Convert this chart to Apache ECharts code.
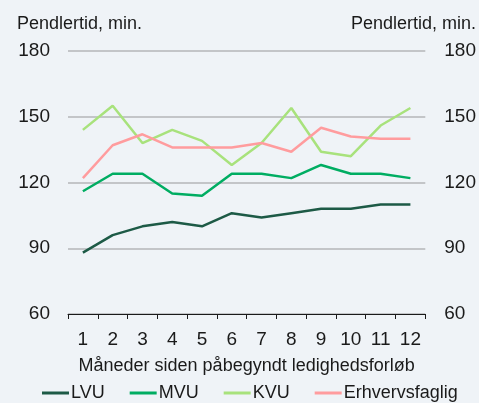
<!DOCTYPE html>
<html>
<head>
<meta charset="utf-8">
<script src="https://cdn.jsdelivr.net/npm/echarts@6/dist/echarts.min.js"></script>
<style>
  html, body { margin: 0; padding: 0; background: #eff3f7; }
  #chart { width: 479px; height: 403px; }
</style>
</head>
<body>
<div id="chart"></div>
<script>
var months = ['1', '2', '3', '4', '5', '6', '7', '8', '9', '10', '11', '12'];
var lvu = [88, 96, 100, 102, 100, 106, 104, 106, 108, 108, 110, 110];
var mvu = [116, 124, 124, 115, 114, 124, 124, 122, 128, 124, 124, 122];
var kvu = [144, 155, 138, 144, 139, 128, 138, 154, 134, 132, 146, 154];
var erhverv = [122, 137, 142, 136, 136, 136, 138, 134, 145, 141, 140, 140];

var font = 'Liberation Sans, Arial, sans-serif';

var mkLine = function (name, data, color, axis) {
    return {
        name: name,
        type: 'line',
        data: data,
        yAxisIndex: axis || 0,
        symbol: 'none',
        lineStyle: { width: 2.5, color: color },
        itemStyle: { color: color }
    };
};

var yAxisBase = function (pos) {
    return {
        type: 'value',
        position: pos,
        min: 60,
        max: 180,
        interval: 30,
        axisLine: { show: false },
        axisTick: { show: false },
        axisLabel: { color: '#1a1a1a', fontSize: 19, fontFamily: font, margin: pos === 'left' ? 18 : 19 },
        splitLine: { show: pos === 'left', lineStyle: { color: '#b4b6b8', width: 1.5 } }
    };
};

var chart = echarts.init(document.getElementById('chart'));
chart.setOption({
    backgroundColor: '#eff3f7',
    animation: false,
    grid: { left: 68, right: 53, top: 51, bottom: 89 },
    graphic: [
        { type: 'text', left: 17, top: 15, style: { text: 'Pendlertid, min.', fontSize: 18, fontFamily: font, fill: '#1a1a1a' } },
        { type: 'text', right: 3, top: 15, style: { text: 'Pendlertid, min.', fontSize: 18, fontFamily: font, fill: '#1a1a1a' } }
    ],
    legend: {
        left: 37,
        top: 379,
        itemGap: 25,
        itemWidth: 27,
        itemHeight: 3,
        icon: 'rect',
        textStyle: { fontSize: 18, fontFamily: font, color: '#1a1a1a', padding: [0, 0, 0, -3] },
        data: ['LVU', 'MVU', 'KVU', 'Erhvervsfaglig']
    },
    xAxis: {
        type: 'category',
        data: months,
        boundaryGap: true,
        name: 'Måneder siden påbegyndt ledighedsforløb',
        nameLocation: 'middle',
        nameGap: 43,
        nameTextStyle: { fontSize: 18, fontFamily: font, color: '#1a1a1a' },
        axisLine: { lineStyle: { color: '#1a1a1a', width: 1 } },
        axisTick: { show: true, length: 5, lineStyle: { color: '#1a1a1a' } },
        axisLabel: { color: '#1a1a1a', fontSize: 19, fontFamily: font, margin: 16 }
    },
    yAxis: [yAxisBase('left'), yAxisBase('right')],
    series: [
        mkLine('LVU', lvu, '#1d5a46'),
        mkLine('MVU', mvu, '#00ad62'),
        mkLine('KVU', kvu, '#a8e27c'),
        mkLine('Erhvervsfaglig', erhverv, '#ff9c9e'),
        mkLine('', [], '#000', 1)
    ]
});
</script>
</body>
</html>
